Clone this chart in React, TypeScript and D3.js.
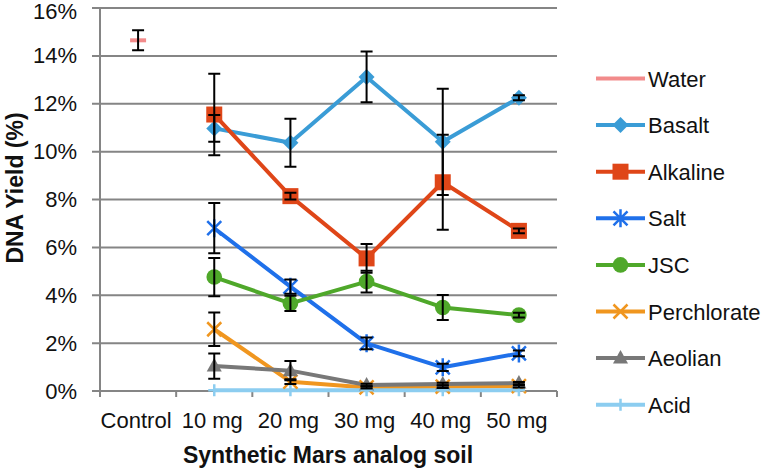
import * as d3 from 'd3'

const CATEGORIES = ['Control', '10 mg', '20 mg', '30 mg', '40 mg', '50 mg']
const Y_TICKS = [0, 2, 4, 6, 8, 10, 12, 14, 16]

const WATER = [14.65, null, null, null, null, null]
const WATER_ERR = [0.42, 0, 0, 0, 0, 0]
const BASALT = [null, 10.97, 10.37, 13.12, 10.41, 12.25]
const BASALT_ERR = [0, 0.56, 1.0, 1.06, 2.22, 0.1]
const ALKALINE = [null, 11.55, 8.14, 5.54, 8.72, 6.69]
const ALKALINE_ERR = [0, 1.7, 0.14, 0.6, 1.98, 0.1]
const SALT = [null, 6.8, 4.36, 1.99, 0.99, 1.57]
const SALT_ERR = [0, 1.05, 0.3, 0.25, 0.15, 0.12]
const JSC = [null, 4.76, 3.66, 4.57, 3.49, 3.17]
const JSC_ERR = [0, 0.8, 0.32, 0.45, 0.52, 0.1]
const PERCHLORATE = [null, 2.58, 0.39, 0.15, 0.18, 0.2]
const PERCHLORATE_ERR = [0, 0.7, 0.1, 0.05, 0.05, 0.05]
const AEOLIAN = [null, 1.04, 0.85, 0.25, 0.29, 0.33]
const AEOLIAN_ERR = [0, 0.53, 0.4, 0.05, 0.05, 0.05]
const ACID = [null, 0.03, 0.03, 0.03, 0.03, 0.03]
const ACID_ERR = [0, 0, 0, 0, 0, 0]

type Marker = 'dash' | 'diamond' | 'square' | 'star' | 'circle' | 'x' | 'triangle' | 'plus'
type Series = { name: string; values: (number | null)[]; err: number[]; color: string; marker: Marker }

const SERIES: Series[] = [
  { name: 'Water', values: WATER, err: WATER_ERR, color: '#f28b8b', marker: 'dash' },
  { name: 'Basalt', values: BASALT, err: BASALT_ERR, color: '#3a9cd6', marker: 'diamond' },
  { name: 'Alkaline', values: ALKALINE, err: ALKALINE_ERR, color: '#df4618', marker: 'square' },
  { name: 'Salt', values: SALT, err: SALT_ERR, color: '#1f70ea', marker: 'star' },
  { name: 'JSC', values: JSC, err: JSC_ERR, color: '#4fa82a', marker: 'circle' },
  { name: 'Perchlorate', values: PERCHLORATE, err: PERCHLORATE_ERR, color: '#f0961f', marker: 'x' },
  { name: 'Aeolian', values: AEOLIAN, err: AEOLIAN_ERR, color: '#787878', marker: 'triangle' },
  { name: 'Acid', values: ACID, err: ACID_ERR, color: '#8ccdf0', marker: 'plus' },
]

const WIDTH = 771
const HEIGHT = 471
const PLOT = { left: 100, right: 557, top: 8, bottom: 391 }
const FONT = '"Liberation Sans", Arial, Helvetica, sans-serif'
const GRID = '#858585'

function MarkerShape({ type, color, cx, cy }: { type: Marker; color: string; cx: number; cy: number }) {
  const s = 8
  switch (type) {
    case 'dash':
      return <rect x={cx - 8} y={cy - 2} width={16} height={4} fill={color} />
    case 'diamond':
      return <path d={`M${cx},${cy - s}L${cx + s},${cy}L${cx},${cy + s}L${cx - s},${cy}Z`} fill={color} />
    case 'square':
      return <rect x={cx - s} y={cy - s} width={2 * s} height={2 * s} fill={color} />
    case 'circle':
      return <circle cx={cx} cy={cy} r={7.8} fill={color} />
    case 'triangle':
      return <path d={`M${cx},${cy - 8}L${cx + 7.5},${cy + 5.5}L${cx - 7.5},${cy + 5.5}Z`} fill={color} />
    case 'x':
      return (
        <path
          d={`M${cx - 7},${cy - 7}L${cx + 7},${cy + 7}M${cx - 7},${cy + 7}L${cx + 7},${cy - 7}`}
          stroke={color}
          strokeWidth={2.5}
        />
      )
    case 'star':
      return (
        <path
          d={`M${cx - 7},${cy - 7}L${cx + 7},${cy + 7}M${cx - 7},${cy + 7}L${cx + 7},${cy - 7}M${cx},${cy - 9}L${cx},${cy + 9}`}
          stroke={color}
          strokeWidth={2.5}
        />
      )
    case 'plus':
      return (
        <path d={`M${cx - 6},${cy}L${cx + 6},${cy}M${cx},${cy - 6}L${cx},${cy + 6}`} stroke={color} strokeWidth={2.5} />
      )
  }
}

export default function App() {
  const x = d3.scaleBand<string>().domain(CATEGORIES).range([PLOT.left, PLOT.right]).padding(0)
  const y = d3.scaleLinear().domain([0, 16]).range([PLOT.bottom, PLOT.top])
  const cx = (i: number) => (x(CATEGORIES[i]) ?? 0) + x.bandwidth() / 2

  const line = d3
    .line<number | null>()
    .defined((v) => v !== null)
    .x((_, i) => cx(i))
    .y((v) => y(v as number))

  const legendY = (i: number) => 78.5 + i * 46.6

  return (
    <svg
      width={WIDTH}
      height={HEIGHT}
      viewBox={`0 0 ${WIDTH} ${HEIGHT}`}
      style={{ position: 'absolute', left: 0, top: 0, background: '#fff' }}
      fontFamily={FONT}
    >
      {/* grid */}
      {Y_TICKS.map((t) => (
        <g key={t}>
          <line x1={PLOT.left - 8} x2={PLOT.right} y1={y(t)} y2={y(t)} stroke={GRID} strokeWidth={2} />
          <text x={77} y={Math.max(y(t) + 7.5, 19)} textAnchor="end" fontSize={22} fill="#111">
            {t}%
          </text>
        </g>
      ))}
      <line x1={PLOT.left} x2={PLOT.left} y1={PLOT.top} y2={PLOT.bottom + 6} stroke={GRID} strokeWidth={2} />
      {CATEGORIES.map((c, i) => (
        <g key={c}>
          <line
            x1={(x(c) ?? 0) + x.bandwidth()}
            x2={(x(c) ?? 0) + x.bandwidth()}
            y1={PLOT.bottom}
            y2={PLOT.bottom + 6}
            stroke={GRID}
            strokeWidth={2}
          />
          <text x={cx(i) - 2} y={428} textAnchor="middle" fontSize={22} fill="#111">
            {c}
          </text>
        </g>
      ))}

      {/* series lines */}
      {SERIES.map((s) => (
        <path key={s.name} d={line(s.values) ?? undefined} fill="none" stroke={s.color} strokeWidth={4} strokeLinejoin="round" />
      ))}

      {/* markers */}
      {SERIES.map((s) =>
        s.values.map((v, i) =>
          v === null ? null : <MarkerShape key={`${s.name}-${i}`} type={s.marker} color={s.color} cx={cx(i)} cy={y(v)} />
        )
      )}

      {/* error bars */}
      {SERIES.map((s) =>
        s.values.map((v, i) => {
          if (v === null || !s.err[i]) return null
          const top = y(v + s.err[i])
          const bot = y(Math.max(0, v - s.err[i]))
          const c = cx(i)
          return (
            <path
              key={`${s.name}-e${i}`}
              d={`M${c},${top}L${c},${bot}M${c - 6},${top}L${c + 6},${top}M${c - 6},${bot}L${c + 6},${bot}`}
              stroke="#000"
              strokeWidth={2}
              fill="none"
            />
          )
        })
      )}

      {/* axis titles */}
      <text x={328} y={463} textAnchor="middle" fontSize={23} fontWeight="bold" fill="#111">
        Synthetic Mars analog soil
      </text>
      <text
        transform={`translate(23, ${188}) rotate(-90)`}
        textAnchor="middle"
        fontSize={23}
        fontWeight="bold"
        fill="#111"
      >
        DNA Yield (%)
      </text>

      {/* legend */}
      {SERIES.map((s, i) => (
        <g key={s.name}>
          <line x1={596} x2={645} y1={legendY(i)} y2={legendY(i)} stroke={s.color} strokeWidth={4} />
          {s.marker !== 'dash' && <MarkerShape type={s.marker} color={s.color} cx={620.5} cy={legendY(i)} />}
          <text x={648} y={legendY(i) + 8} fontSize={22} fill="#111">
            {s.name}
          </text>
        </g>
      ))}
    </svg>
  )
}
